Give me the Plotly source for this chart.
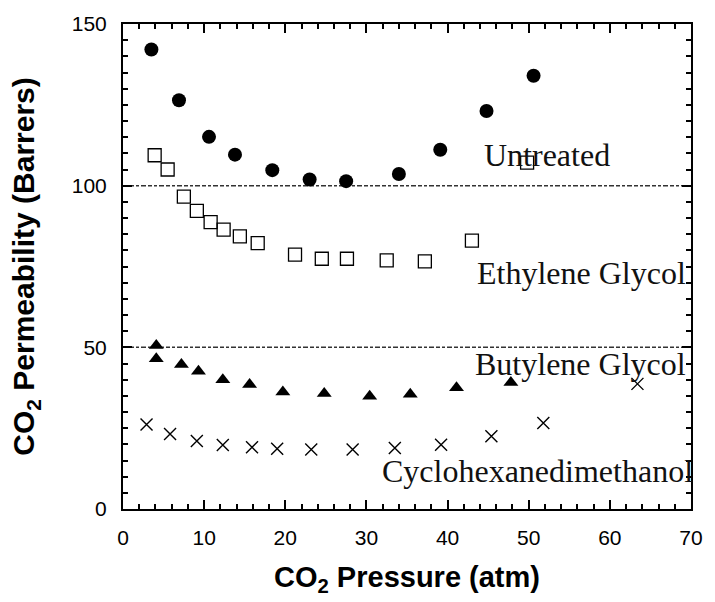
import plotly.graph_objects as go

# Data
untreated_x = [3.5, 6.9, 10.6, 13.8, 18.4, 23.0, 27.5, 34.0, 39.1, 44.8, 50.6]
untreated_y = [142.1, 126.4, 115.1, 109.6, 104.8, 101.9, 101.4, 103.6, 111.1, 123.1, 134.0]

ethylene_x = [3.9, 5.5, 7.5, 9.1, 10.8, 12.4, 14.4, 16.6, 21.2, 24.5, 27.6, 32.5, 37.2, 43.0, 49.8]
ethylene_y = [109.4, 105.0, 96.6, 92.2, 88.7, 86.4, 84.3, 82.2, 78.7, 77.4, 77.4, 76.9, 76.6, 83.0, 107.1]

butylene_x = [4.1, 4.1, 7.2, 9.3, 12.3, 15.6, 19.7, 24.8, 30.4, 35.4, 41.1, 47.8]
butylene_y = [50.6, 46.5, 44.7, 42.6, 40.0, 38.5, 36.2, 35.7, 34.9, 35.5, 37.5, 39.1]

cyclo_x = [2.9, 5.8, 9.1, 12.3, 15.9, 19.0, 23.2, 28.3, 33.5, 39.2, 45.4, 51.8, 63.4]
cyclo_y = [26.1, 23.2, 21.0, 19.8, 19.1, 18.6, 18.4, 18.4, 18.9, 19.9, 22.5, 26.6, 38.7]

ref_lines = [100, 50]
x_ticks = [0, 10, 20, 30, 40, 50, 60, 70]
y_ticks = [0, 50, 100, 150]

labels = ["Untreated", "Ethylene Glycol", "Butylene Glycol", "Cyclohexanedimethanol"]
label_x = [44.2, 69.6, 69.6, 70.0]
label_xshift = [0, 0, 0, 4]
label_y = [109.4, 73.0, 45.0, 11.6]
label_anchor = ["left", "right", "right", "right"]

sans = "Liberation Sans, Arial, sans-serif"
serif = "Liberation Serif, Times New Roman, serif"

fig = go.Figure()

fig.add_trace(go.Scatter(x=untreated_x, y=untreated_y, mode="markers",
                         marker=dict(symbol="circle", size=14, color="black"),
                         showlegend=False))
fig.add_trace(go.Scatter(x=ethylene_x, y=ethylene_y, mode="markers",
                         marker=dict(symbol="square-open", size=13, color="black",
                                     line=dict(width=1.3, color="black")),
                         showlegend=False))
fig.add_trace(go.Scatter(x=butylene_x, y=butylene_y, mode="markers",
                         marker=dict(symbol="triangle-up", size=13, color="black"),
                         showlegend=False))
fig.add_trace(go.Scatter(x=cyclo_x, y=cyclo_y, mode="markers",
                         marker=dict(symbol="x-thin-open", size=12, color="black",
                                     line=dict(width=1.4, color="black")),
                         showlegend=False))

for yv in ref_lines:
    fig.add_shape(type="line", xref="paper", x0=0, x1=1, yref="y", y0=yv, y1=yv,
                  line=dict(color="#333333", width=1.5, dash="5px,2px,4px,2px,3px,2px"),
                  layer="below")

for t, xx, xs, yy, an in zip(labels, label_x, label_xshift, label_y, label_anchor):
    fig.add_annotation(x=xx, y=yy, xref="x", yref="y", text=t, showarrow=False,
                       xanchor=an, yanchor="middle", xshift=xs,
                       font=dict(family=serif, size=32, color="#111111", weight="normal"))

axis_common = dict(showgrid=False, zeroline=False, showline=True, linecolor="black",
                   linewidth=2, mirror="ticks", ticks="inside", tickcolor="black",
                   tickwidth=1.5, ticklen=9,
                   tickfont=dict(family=sans, size=21, color="black"))

fig.update_xaxes(range=[0, 70], tickvals=x_ticks, ticklabelstandoff=9,
                 minor=dict(dtick=2, ticks="inside", ticklen=5, tickwidth=1.5, tickcolor="black"),
                 title=dict(text="CO<sub>2</sub> Pressure (atm)", standoff=18,
                            font=dict(family=sans, size=29, color="black", weight="bold")),
                 **axis_common)
fig.update_yaxes(range=[0, 150], tickvals=y_ticks, ticklabelstandoff=10,
                 minor=dict(dtick=5, ticks="inside", ticklen=5, tickwidth=1.5, tickcolor="black"),
                 title=dict(text="CO<sub>2</sub> Permeability (Barrers)", standoff=28,
                            font=dict(family=sans, size=30, color="black", weight="bold")),
                 **axis_common)

fig.update_layout(width=715, height=602, margin=dict(l=123, r=15, t=20, b=93),
                  plot_bgcolor="white", paper_bgcolor="white",
                  font=dict(family=sans))

fig.write_html("out.html")
